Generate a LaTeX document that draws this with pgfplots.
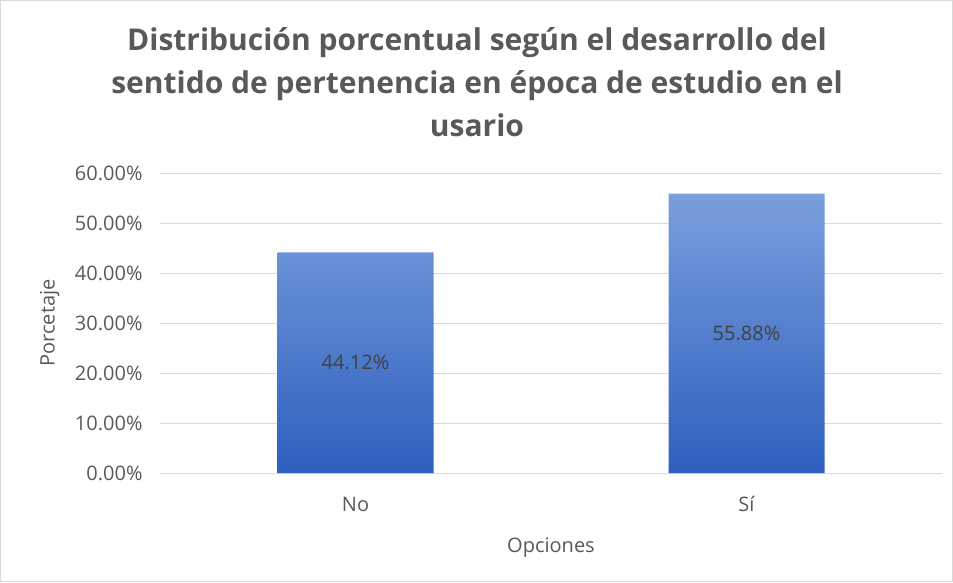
\documentclass[border=0pt]{standalone}
\usepackage{fontspec}
\setmainfont{Open Sans}
\usepackage{pgfplots}
\pgfplotsset{compat=1.18}
\definecolor{txt}{HTML}{595959}
\definecolor{gridc}{HTML}{D9D9D9}
\definecolor{bartop}{HTML}{7A9FDC}
\definecolor{barbot}{HTML}{2E5FBF}
\begin{document}
\begin{tikzpicture}[x=1pt,y=1pt]
\useasboundingbox (0,0) rectangle (953,582);
\draw[gridc,line width=0.8pt] (0.5,0.5) rectangle (952.5,581.5);
\node[font=\fontsize{30}{43}\selectfont\bfseries, text=txt, align=center, anchor=center] at (477,500)
{Distribución porcentual según el desarrollo del\\sentido de pertenencia en época de estudio en el\\usario};
\begin{axis}[
  at={(160pt,109pt)}, anchor=south west,
  scale only axis, width=782pt, height=300pt,
  ybar, bar width=156pt,
  xmin=-0.5, xmax=1.5, ymin=0, ymax=60,
  xtick=data, xticklabels={No, Sí},
  ytick={0,10,...,60},
  yticklabel={\pgfmathprintnumber[fixed,fixed zerofill,precision=2]{\tick}\%},
  /pgf/number format/assume math mode=true,
  ymajorgrids, grid style={draw=gridc, line width=0.8pt},
  axis line style={draw=none},
  major tick length=0pt,
  tick label style={font=\fontsize{20}{24}\selectfont, text=txt},
  yticklabel style={anchor=east, xshift=-14pt},
  xticklabel style={anchor=center, yshift=-31pt},
  ylabel={Porcetaje}, xlabel={Opciones},
  label style={font=\fontsize{20}{24}\selectfont, text=txt},
  ylabel style={at={(axis description cs:-0.141,0.5)}, anchor=center},
  xlabel style={at={(axis description cs:0.5,-0.247)}, anchor=center},
  nodes near coords={\pgfmathprintnumber[fixed,fixed zerofill,precision=2]{\pgfplotspointmeta}\%},
  visualization depends on=y \as \rawy,
  every node near coord/.append style={anchor=center, font=\fontsize{20}{24}\selectfont, text=black!75, shift={(axis direction cs:0,-\rawy/2)}},
]
\addplot[draw=none, top color=bartop, bottom color=barbot] coordinates {(0,44.12) (1,55.88)};
\end{axis}
\end{tikzpicture}
\end{document}
